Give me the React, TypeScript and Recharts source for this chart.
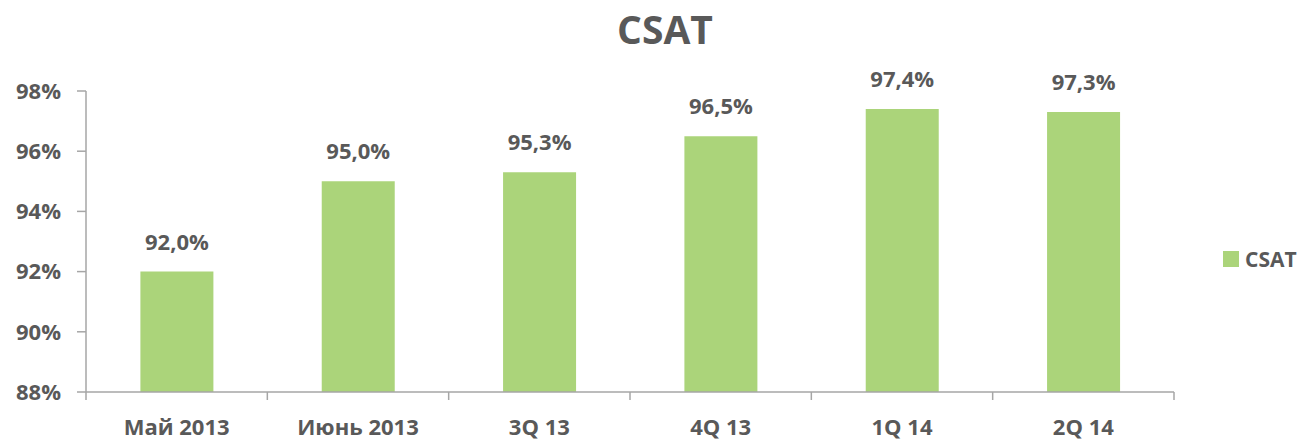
import { BarChart, Bar, XAxis, YAxis, LabelList } from "recharts";

const categories = ["Май 2013", "Июнь 2013", "3Q 13", "4Q 13", "1Q 14", "2Q 14"];
const csat = [92.0, 95.0, 95.3, 96.5, 97.4, 97.3];
const yTicks = [88, 90, 92, 94, 96, 98];

const data = categories.map((name, i) => ({ name, csat: csat[i] }));

const W = 1305;
const H = 441;
const LEFT = 86;
const RIGHT = 131;
const BAND = (W - LEFT - RIGHT) / categories.length;
const TEXT = "#595959";
const AXIS = "#a6a6a6";
const GREEN = "#abd47a";
const FONT = "'Open Sans', sans-serif";

function XTick(props: any) {
  const { x, y, payload, index } = props;
  const top = y - 8;
  return (
    <g>
      <line x1={x - BAND / 2} x2={x - BAND / 2} y1={top} y2={top + 8} stroke={AXIS} strokeWidth={1.5} />
      {index === categories.length - 1 && (
        <line x1={x + BAND / 2} x2={x + BAND / 2} y1={top} y2={top + 8} stroke={AXIS} strokeWidth={1.5} />
      )}
      <text x={x} y={top + 43} textAnchor="middle" fill={TEXT} fontSize={22} fontWeight={700} fontFamily={FONT}>
        {payload.value}
      </text>
    </g>
  );
}

export default function App() {
  return (
    <div style={{ position: "absolute", left: 0, top: 0, width: W, height: H, background: "#fff" }}>
      <div
        style={{
          position: "absolute",
          left: 565,
          width: 200,
          top: 2,
          textAlign: "center",
          fontFamily: FONT,
          fontWeight: 700,
          fontSize: 39,
          color: TEXT,
        }}
      >
        CSAT
      </div>
      <div
        style={{
          position: "absolute",
          left: 1223,
          top: 245,
          display: "flex",
          alignItems: "center",
          fontFamily: FONT,
          fontWeight: 700,
          fontSize: 21,
          color: TEXT,
        }}
      >
        <span style={{ width: 16, height: 16, background: GREEN, display: "inline-block", marginRight: 6 }} />
        CSAT
      </div>
      <BarChart
        width={W}
        height={H}
        data={data}
        margin={{ top: 91, right: RIGHT, bottom: 0, left: 0 }}
        barCategoryGap="30%"
      >
        <XAxis
          dataKey="name"
          tickLine={false}
          tickSize={8}
          tickMargin={0}
          axisLine={{ stroke: AXIS, strokeWidth: 1.5 }}
          tick={<XTick />}
          interval={0}
          height={49}
        />
        <YAxis
          width={LEFT}
          domain={[88, 98]}
          ticks={yTicks}
          allowDataOverflow
          tickFormatter={(v: number) => `${v}%`}
          axisLine={{ stroke: AXIS, strokeWidth: 1.5 }}
          tickLine={{ stroke: AXIS, strokeWidth: 1.5 }}
          tickSize={9}
          tickMargin={16}
          tick={{ fill: TEXT, fontSize: 22, fontWeight: 700, fontFamily: FONT }}
        />
        <Bar dataKey="csat" name="CSAT" fill={GREEN} isAnimationActive={false}>
          <LabelList
            dataKey="csat"
            position="top"
            offset={22}
            formatter={(v: any) => `${Number(v).toFixed(1).replace(".", ",")}%`}
            style={{ fill: TEXT, fontSize: 22, fontWeight: 700, fontFamily: FONT }}
          />
        </Bar>
      </BarChart>
    </div>
  );
}
